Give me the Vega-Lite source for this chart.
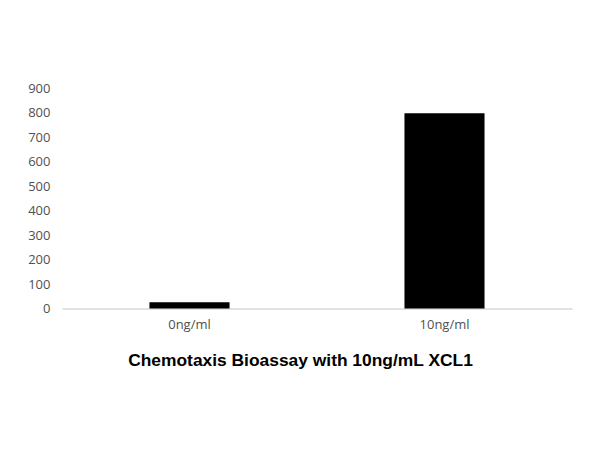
{
  "$schema": "https://vega.github.io/schema/vega-lite/v6.json",
  "autosize": "none",
  "width": 510,
  "height": 220.5,
  "padding": {"left": 62, "top": 88, "right": 28, "bottom": 141},
  "background": "white",
  "data": {
    "values": [
      {"dose": "0ng/ml", "value": 26},
      {"dose": "10ng/ml", "value": 797}
    ]
  },
  "mark": {"type": "bar", "color": "black"},
  "encoding": {
    "x": {
      "field": "dose",
      "type": "nominal",
      "sort": null,
      "scale": {"paddingInner": 0.686, "paddingOuter": 0.343},
      "axis": {
        "title": "Chemotaxis Bioassay with 10ng/mL XCL1",
        "titleFont": "Liberation Sans",
        "titleFontSize": 17.4,
        "titleFontWeight": "bold",
        "titleColor": "black",
        "titleAnchor": null,
        "titleX": 238,
        "titleY": 52,
        "titleBaseline": "middle",
        "titleAlign": "center",
        "labelAngle": 0,
        "labelFont": "Open Sans",
        "labelFontSize": 13,
        "labelColor": "#505050",
        "labelPadding": 10,
        "ticks": false,
        "domainColor": "#d9d9d9",
        "domainWidth": 1.3
      }
    },
    "y": {
      "field": "value",
      "type": "quantitative",
      "scale": {"domain": [0, 900], "nice": false},
      "axis": {
        "title": null,
        "values": [0, 100, 200, 300, 400, 500, 600, 700, 800, 900],
        "grid": false,
        "domain": false,
        "ticks": false,
        "labelFont": "Open Sans",
        "labelFontSize": 13,
        "labelColor": "#505050",
        "labelPadding": 12
      }
    }
  },
  "config": {
    "view": {"stroke": null}
  }
}
